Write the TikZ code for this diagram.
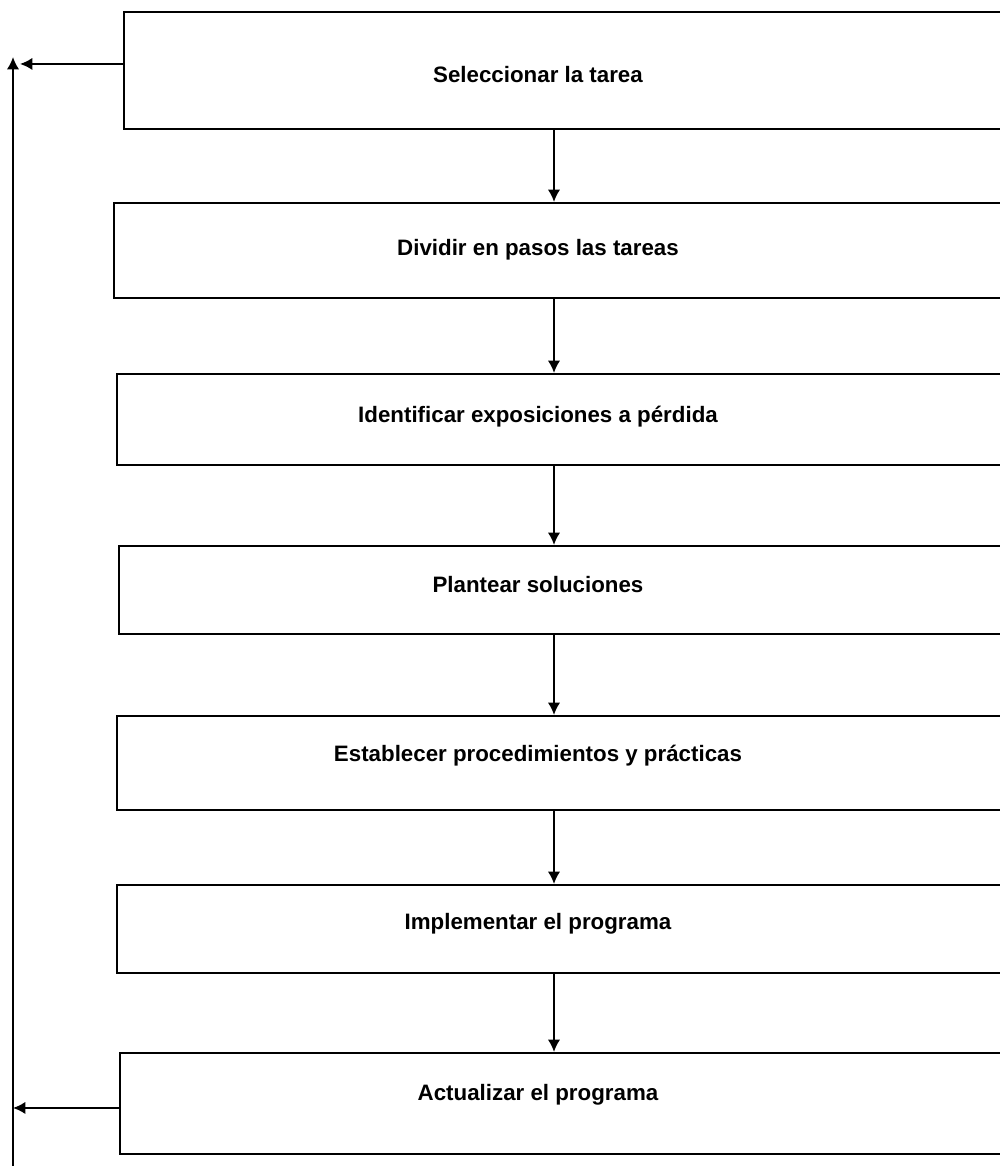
\documentclass[tikz,border=0pt]{standalone}
\usepackage{fontspec}
\setmainfont{Liberation Sans}
\usetikzlibrary{arrows.meta}
\tikzset{
  box/.style={draw, line width=1.1pt, anchor=north west, inner sep=0pt, minimum width=19cm},
  lbl/.style={anchor=base, inner sep=0pt, font=\bfseries\fontsize{12.7}{15}\selectfont}
}
\begin{document}
\begin{tikzpicture}[x=0.02cm, y=-0.02cm, line width=1.1pt, >={Latex[length=7pt,width=7pt]}]
  \useasboundingbox (0,0) rectangle (1000,1166);
  \clip (0,0) rectangle (1000,1166);
  % boxes
  \node[box, minimum height=2.34cm] (sel) at (123,11) {};
  \node[box, minimum height=1.90cm] (div) at (113,202) {};
  \node[box, minimum height=1.82cm] (ide) at (116,373) {};
  \node[box, minimum height=1.76cm] (pla) at (118,545) {};
  \node[box, minimum height=1.88cm] (est) at (116,715) {};
  \node[box, minimum height=1.76cm] (imp) at (116,884) {};
  \node[box, minimum height=2.02cm] (act) at (119,1052) {};
  % texts
  \node[lbl] (tsel) at (538,83) {Seleccionar la tarea};
  \node[lbl] (tdiv) at (538,255) {Dividir en pasos las tareas};
  \node[lbl] (tide) at (538,422) {Identificar exposiciones a pérdida};
  \node[lbl] (tpla) at (538,592) {Plantear soluciones};
  \node[lbl] (test) at (538,761) {Establecer procedimientos y prácticas};
  \node[lbl] (timp) at (538,929) {Implementar el programa};
  \node[lbl] (tact) at (538,1100) {Actualizar el programa};
  \coordinate (col) at (554,0);
  \coordinate (rail) at (13,0);
  \coordinate (railend) at (20,0);
  \coordinate (railbot) at (13,1170);
  \coordinate (railtop) at (13,57);
  \draw[->] (sel.south -| col) -- (div.north -| col);
  \draw[->] (div.south -| col) -- (ide.north -| col);
  \draw[->] (ide.south -| col) -- (pla.north -| col);
  \draw[->] (pla.south -| col) -- (est.north -| col);
  \draw[->] (est.south -| col) -- (imp.north -| col);
  \draw[->] (imp.south -| col) -- (act.north -| col);
  % feedback
  \draw[->] ([yshift=-0.09cm]act.west) -- ([yshift=-0.09cm]act.west -| rail);
  \draw[->] (railbot) -- (railtop);
  \draw[->] ([yshift=0.13cm]sel.west) -- ([yshift=0.13cm]sel.west -| railend);
\end{tikzpicture}
\end{document}
